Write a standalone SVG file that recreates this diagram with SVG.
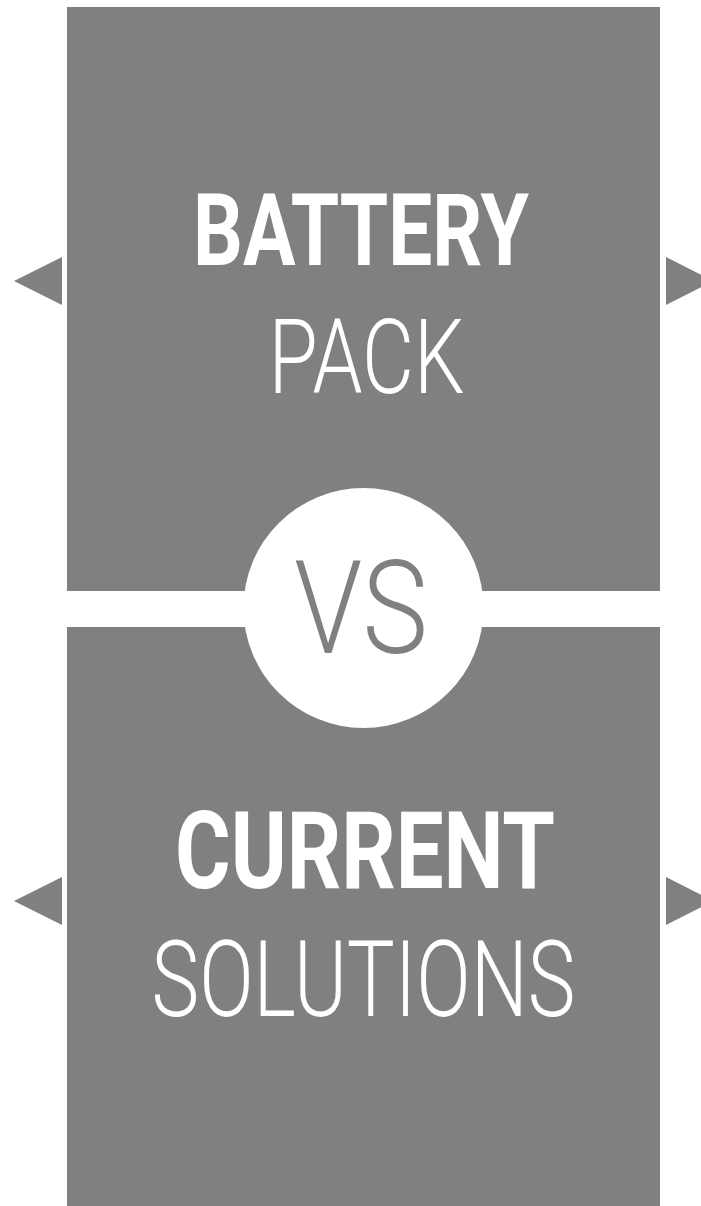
<svg xmlns="http://www.w3.org/2000/svg" width="701" height="1206" viewBox="0 0 701 1206">
<style>
.box{fill:#808080}
.t{fill:#fff;font-family:Roboto,"Liberation Sans",sans-serif;text-anchor:middle}
.b{font-weight:700}
.l{font-weight:300}
.vs{fill:#808080;font-family:Roboto,"Liberation Sans",sans-serif;font-weight:300;text-anchor:middle}
</style>
<rect width="701" height="1206" fill="#fff"/>
<g id="connectors">
<polygon class="box" points="62,257 62,305 14,281"/>
<polygon class="box" points="666,257 666,305 713,281"/>
<polygon class="box" points="62,877 62,925 14,901"/>
<polygon class="box" points="666,877 666,925 713,901"/>
</g>
<g id="battery-pack">
<rect class="box" x="67" y="7" width="593" height="584"/>
<text class="t b" x="361" y="265" font-size="101" textLength="336" lengthAdjust="spacingAndGlyphs">BATTERY</text>
<text class="t l" x="366.5" y="393" font-size="104" textLength="196" lengthAdjust="spacingAndGlyphs">PACK</text>
</g>
<g id="current-solutions">
<rect class="box" x="67" y="627" width="593" height="579"/>
<text class="t b" x="365" y="888" font-size="107" textLength="380" lengthAdjust="spacingAndGlyphs">CURRENT</text>
<text class="t l" x="363.5" y="1016" font-size="105" textLength="424" lengthAdjust="spacingAndGlyphs">SOLUTIONS</text>
</g>
<g id="vs">
<circle cx="363.5" cy="608" r="120" fill="#fff"/>
<text class="vs" x="361" y="653" font-size="130" textLength="134" lengthAdjust="spacingAndGlyphs">VS</text>
</g>
</svg>
